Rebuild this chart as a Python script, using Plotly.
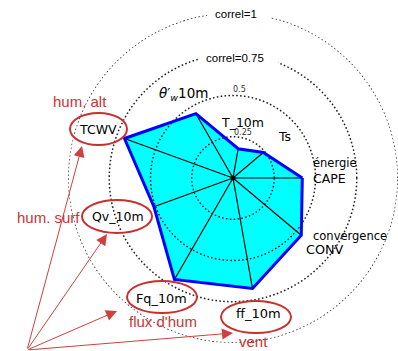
import numpy as np
import plotly.graph_objects as go

W, H = 398, 351

# Variables placed counterclockwise starting from the east
variables = ["CAPE", "Ts", "T_10m", "theta_w_10m", "TCWV", "Qv_10m", "Fq_10m", "ff_10m", "CONV"]
correlations = [0.42, 0.24, 0.18, 0.45, 0.70, 0.51, 0.71, 0.68, 0.54]
circle_levels = [0.25, 0.5, 0.75, 1.0]
circle_tick_labels = ["0.25", "0.5"]

n = len(variables)
angles = [i * 360.0 / n for i in range(n)]

# polar area: centre at (233, 178) px, radius 165 px
CX, CY, R = 233, 178, 165
polar_dom_x = [(CX - R) / W, (CX + R) / W]
polar_dom_y = [(H - CY - R) / H, (H - CY + R) / H]


def px(x, y):
    return x / W, 1 - y / H


fig = go.Figure()

# filled polygon
fig.add_trace(go.Scatterpolar(
    r=correlations + correlations[:1], theta=angles + angles[:1],
    mode="lines", fill="toself", fillcolor="#00ffff",
    line=dict(color="rgba(0,0,0,0)", width=0), hoverinfo="skip", showlegend=False))

# dotted correlation circles
ring = np.linspace(0, 360, 361)
for lev in circle_levels:
    fig.add_trace(go.Scatterpolar(
        r=[lev] * len(ring), theta=ring, mode="lines",
        line=dict(color="#222222", width=1.5, dash="1.6px,2.3px"),
        cliponaxis=False, hoverinfo="skip", showlegend=False))

# spokes from the centre to each vertex
sr, st = [], []
for v, a in zip(correlations, angles):
    sr += [0, v, None]
    st += [a, a, None]
fig.add_trace(go.Scatterpolar(
    r=sr, theta=st, mode="lines", line=dict(color="black", width=1.2),
    hoverinfo="skip", showlegend=False))

# polygon outline
fig.add_trace(go.Scatterpolar(
    r=correlations + correlations[:1], theta=angles + angles[:1],
    mode="lines", line=dict(color="#0000ff", width=3),
    hoverinfo="skip", showlegend=False))

# centre dot
fig.add_trace(go.Scatterpolar(
    r=[0], theta=[0], mode="markers", marker=dict(color="black", size=5),
    hoverinfo="skip", showlegend=False))

annotations = []


def label(text, x, y, size=12.5, color="black", family="DejaVu Sans", xanchor="center"):
    ax_, ay_ = px(x, y)
    annotations.append(dict(text=text, x=ax_, y=ay_, xref="paper", yref="paper", showarrow=False,
                            xanchor=xanchor, yanchor="middle",
                            font=dict(size=size, color=color, family=family)))


# circle captions
label("correl=1", 236, 14, size=11.5, family="Liberation Sans")
label("correl=0.75", 235, 58, size=11.5, family="Liberation Sans")
label(circle_tick_labels[1], 239, 90, size=8, color="#333333")
label(circle_tick_labels[0], 243, 132, size=8, color="#333333")

# variable names
label("<i>θ</i>′<sub><i>w</i></sub>10m", 183, 94, size=13.5)
label("T_10m", 242, 122, size=12.5)
label("Ts", 284, 136, size=12.5)
label("énergie", 311, 163, size=11.5, xanchor="left")
label("CAPE", 311, 178, size=12.5, xanchor="left")
label("convergence", 311, 236, size=11.5, xanchor="left")
label("CONV", 304, 249, size=12.8, xanchor="left")
label("TCWV", 98, 129, size=12.5)
label("Qv_10m", 118, 216, size=12.5)
label("Fq_10m", 161, 298, size=12.8)
label("ff_10m", 258, 313, size=13)

# group captions
RED = "#cc3333"
label("hum. alt", 80, 101, size=15, color=RED, family="Liberation Sans")
label("hum. surf", 48, 217, size=15, color=RED, family="Liberation Sans")
label("flux d'hum", 163, 321, size=15, color=RED, family="Liberation Sans")
label("vent", 253, 341, size=15, color=RED, family="Liberation Sans")

# arrows from the lower-left corner to the highlighted variables
tail = (27, 350)
for hx, hy in [(82, 146), (107, 234), (117, 311), (233, 333)]:
    x_, y_ = px(hx, hy)
    annotations.append(dict(
        text="", x=x_, y=y_, xref="paper", yref="paper", showarrow=True,
        ax=tail[0] - hx, ay=tail[1] - hy, axref="pixel", ayref="pixel",
        arrowhead=2, arrowsize=2.2, arrowwidth=1, arrowcolor="#d04040"))

shapes = []
# white boxes behind the circle captions
for x0, y0, x1, y1 in [(207, 7, 271, 22), (200, 50, 278, 66)]:
    a0, b0 = px(x0, y1)
    a1, b1 = px(x1, y0)
    shapes.append(dict(type="rect", xref="paper", yref="paper", x0=a0, y0=b0, x1=a1, y1=b1,
                       fillcolor="white", line=dict(width=0), layer="above"))

# ellipses around highlighted variables
for x0, y0, x1, y1 in [(70, 113, 127, 145), (82, 200, 152, 233), (127, 281, 197, 313), (221, 301, 291, 333)]:
    a0, b0 = px(x0, y1)
    a1, b1 = px(x1, y0)
    shapes.append(dict(type="circle", xref="paper", yref="paper", x0=a0, y0=b0, x1=a1, y1=b1,
                       line=dict(color="#c83030", width=2)))

fig.update_layout(
    width=W, height=H, margin=dict(l=0, r=0, t=0, b=0),
    paper_bgcolor="white", plot_bgcolor="white",
    polar=dict(
        domain=dict(x=polar_dom_x, y=polar_dom_y),
        bgcolor="white",
        radialaxis=dict(range=[0, 1], visible=False),
        angularaxis=dict(rotation=0, direction="counterclockwise", thetaunit="degrees",
                         showgrid=False, showticklabels=False, showline=False, ticks=""),
    ),
    annotations=annotations, shapes=shapes, showlegend=False,
)

fig.write_html("out.html")
